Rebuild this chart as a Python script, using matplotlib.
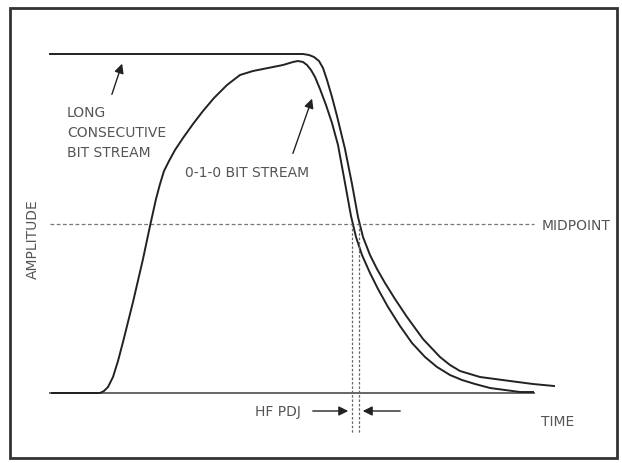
import matplotlib.pyplot as plt
from matplotlib.patches import Rectangle

# 曲线数据 (时间, 幅度), 幅度轴向下为正 (与图像一致)
long_time = [50, 200, 303, 309, 314, 319, 323, 327, 332, 337, 345, 352, 358,
             363, 370, 377, 385, 395, 407, 423, 440, 450, 460, 470, 480, 495,
             510, 533, 554]
long_amp = [55, 55, 55, 56, 58, 62, 69, 81, 98, 117, 150, 185, 218,
            238, 256, 270, 284, 300, 318, 340, 358, 366, 372, 375, 378, 380,
            382, 385, 387]

pulse_time = [52, 100, 104, 108, 113, 118, 123, 133, 143, 150, 156, 160, 164,
              169, 175, 183, 193, 203, 214, 227, 240, 253, 268, 283, 293, 298,
              303, 307, 311, 315, 320, 326, 332, 338, 345, 351, 356, 362, 370,
              378, 388, 400, 412, 425, 437, 450, 462, 475, 490, 505, 520, 533]
pulse_amp = [394, 394, 392, 388, 378, 362, 343, 303, 260, 227, 200, 185, 172,
             162, 151, 139, 125, 112, 99, 86, 76, 72, 69, 66, 63, 62,
             63, 66, 71, 78, 90, 106, 124, 146, 184, 217, 238, 256, 274,
             290, 308, 327, 344, 358, 368, 376, 381, 385, 389, 391, 393, 393]

baseline = 394
midpoint = 225
t_start, t_end = 50, 534
cross_inner, cross_outer = 352, 359

txt = dict(color='#555555', fontsize=10, family=['Liberation Sans Narrow', 'DejaVu Sans'])


def plot_chart():
    fig = plt.figure(figsize=(6.22, 4.64), dpi=100)
    ax = fig.add_axes([0, 0, 1, 1])
    ax.set_xlim(0, 622)
    ax.set_ylim(464, 0)
    ax.axis('off')

    # 外框
    ax.add_patch(Rectangle((10, 9), 607, 450, fill=False, ec='#333333', lw=2))

    # 基线和中点
    ax.plot([t_start, t_end], [baseline, baseline], color='#666666', lw=1.4)
    ax.plot([t_start, t_end], [midpoint, midpoint], color='#777777', lw=0.9, ls=(0, (3, 2)))

    # 两条曲线
    ax.plot(long_time, long_amp, color='#222222', lw=1.4)
    ax.plot(pulse_time, pulse_amp, color='#222222', lw=1.4)

    # 竖虚线
    for x in (cross_inner, cross_outer):
        ax.plot([x, x], [midpoint, 434], color='#666666', lw=0.9, ls=(0, (2, 1.5)))

    arrow = dict(arrowstyle='-|>', color='#222222', lw=1, mutation_scale=14)
    ax.annotate('', xy=(123, 62), xytext=(111, 98), arrowprops=arrow)
    ax.annotate('', xy=(313, 97), xytext=(292, 157), arrowprops=arrow)
    ax.annotate('', xy=(351, 412), xytext=(310, 412), arrowprops=arrow)
    ax.annotate('', xy=(360, 412), xytext=(403, 412), arrowprops=arrow)

    ax.text(67, 133, 'LONG\nCONSECUTIVE\nBIT STREAM', va='center', ha='left',
            linespacing=1.55, **txt)
    ax.text(185, 173, '0-1-0 BIT STREAM', va='center', ha='left', **txt)
    ax.text(542, 226, 'MIDPOINT', va='center', ha='left', **txt)
    ax.text(33, 239, 'AMPLITUDE', va='center', ha='center', rotation=90, **txt)
    ax.text(255, 412, 'HF PDJ', va='center', ha='left', **txt)
    ax.text(541, 422, 'TIME', va='center', ha='left', **txt)

    fig.savefig('out.png', dpi=100)


if __name__ == "__main__":
    plot_chart()
